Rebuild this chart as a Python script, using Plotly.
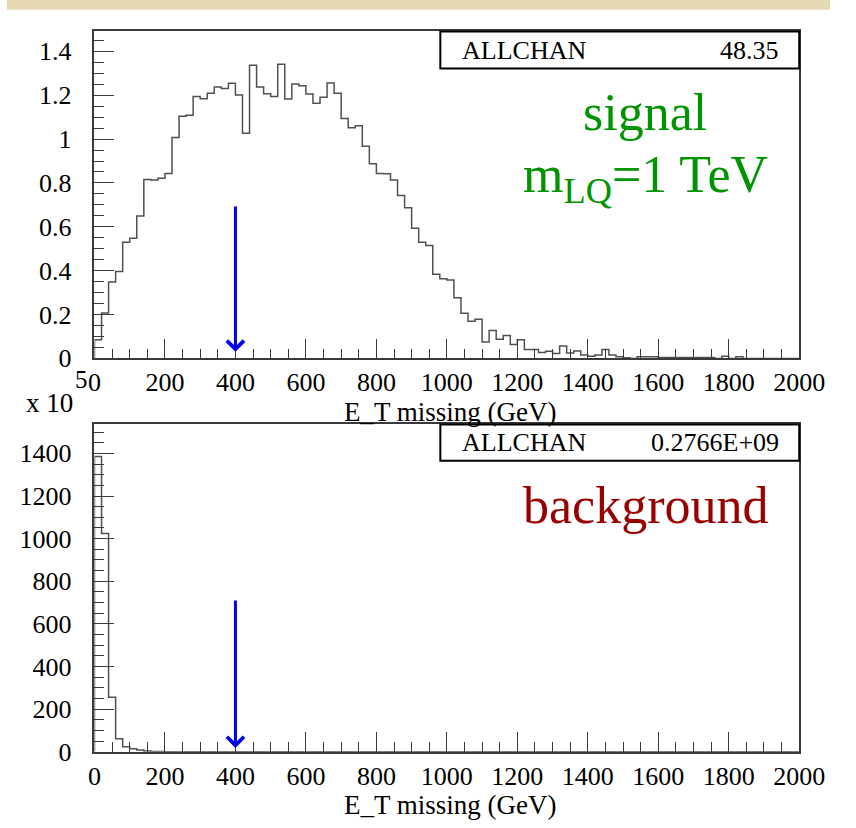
import numpy as np
import plotly.graph_objects as go

# ---------------- data ----------------
BIN_WIDTH = 20          # GeV
N_BINS = 100
X_MAX = 2000

signal_vals = [
    0.085, 0.207, 0.348, 0.396, 0.530, 0.548, 0.649, 0.816, 0.813, 0.821,
    0.843, 1.007, 1.104, 1.109, 1.194, 1.184, 1.209, 1.237, 1.231, 1.255,
    1.201, 1.027, 1.337, 1.238, 1.207, 1.194, 1.341, 1.183, 1.251, 1.243,
    1.206, 1.164, 1.191, 1.256, 1.209, 1.094, 1.052, 1.061, 0.967, 0.887,
    0.843, 0.842, 0.814, 0.743, 0.687, 0.594, 0.530, 0.515, 0.384, 0.363,
    0.358, 0.276, 0.206, 0.169, 0.178, 0.075, 0.127, 0.087, 0.104, 0.063,
    0.085, 0.040, 0.040, 0.027, 0.033, 0.022, 0.057, 0.025, 0.034, 0.015,
    0.010, 0.015, 0.040, 0.015, 0.007, 0.003, 0.000, 0.007, 0.007, 0.007,
    0.004, 0.004, 0.004, 0.004, 0.004, 0.004, 0.004, 0.004, 0.000, 0.010,
    0.000, 0.007, 0.000, 0.000, 0.000, 0.000, 0.000, 0.000, 0.000, 0.000,
]

background_vals = [1385, 1024, 256, 61, 24, 15, 8, 4, 2, 1, 0.5, 0.3] + [0] * 88

signal_entries = "48.35"
background_entries = "0.2766E+09"
cut_value = 400
signal_arrow = (0.70, 0.03)      # arrow tail / tip (y values)
background_arrow = (717, 18)

x_title = "E_T missing (GeV)"

# ---------------- layout helpers ----------------
W, H = 856, 828
def px(x):
    return x / W
def py(y):
    return 1 - y / H

FONT = "Liberation Serif"
AX_COLOR = "#3a3a3a"
HIST_COLOR = "#505050"

edges = np.arange(N_BINS) * BIN_WIDTH

def step_xy(vals):
    xs = np.concatenate([[0], edges, [X_MAX]])
    ys = np.concatenate([[0], np.asarray(vals, float), [vals[-1]]])
    return xs, ys

fig = go.Figure()
sx, sy = step_xy(signal_vals)
bx, by = step_xy(background_vals)
fig.add_trace(go.Scatter(x=sx, y=sy, mode="lines", line=dict(shape="hv", color=HIST_COLOR, width=1.5),
                         xaxis="x", yaxis="y", showlegend=False, hoverinfo="skip"))
fig.add_trace(go.Scatter(x=bx, y=by, mode="lines", line=dict(shape="hv", color=HIST_COLOR, width=1.5),
                         xaxis="x2", yaxis="y2", showlegend=False, hoverinfo="skip"))

def xaxis_cfg(domain, anchor):
    return dict(
        domain=domain, anchor=anchor, range=[0, X_MAX],
        tickmode="linear", tick0=0, dtick=200,
        ticks="inside", ticklen=20, tickwidth=1.2, tickcolor=AX_COLOR,
        minor=dict(ticks="inside", ticklen=10, dtick=50, tickwidth=1.2, tickcolor=AX_COLOR),
        showline=True, linecolor=AX_COLOR, linewidth=1.5, mirror=True,
        showgrid=False, zeroline=False,
        tickfont=dict(family=FONT, size=26, color="black"),
        ticklabelstandoff=0,
    )

def yaxis_cfg(domain, anchor, rng, dtick, mdtick, fmt):
    return dict(
        domain=domain, anchor=anchor, range=rng,
        tickmode="linear", tick0=0, dtick=dtick, tickformat=fmt,
        ticks="inside", ticklen=20, tickwidth=1.2, tickcolor=AX_COLOR,
        minor=dict(ticks="inside", ticklen=10, dtick=mdtick, tickwidth=1.2, tickcolor=AX_COLOR),
        showline=True, linecolor=AX_COLOR, linewidth=1.5, mirror=True,
        showgrid=False, zeroline=False,
        tickfont=dict(family=FONT, size=26, color="black"),
        ticklabelstandoff=16,
    )

fig.update_layout(
    width=W, height=H,
    margin=dict(l=0, r=0, t=0, b=0),
    paper_bgcolor="white", plot_bgcolor="white",
    xaxis=xaxis_cfg([px(91), px(824)], "y"),
    yaxis=yaxis_cfg([py(365), py(32)], "x", [0, 1.491], 0.2, 0.05, "~g"),
    xaxis2=xaxis_cfg([px(91), px(824)], "y2"),
    yaxis2=yaxis_cfg([py(765.7), py(432.3)], "x2", [0, 1535.6], 200, 50, "d"),
    showlegend=False,
)

shapes = [
    # parchment strip at the top
    dict(type="rect", xref="paper", yref="paper", x0=0, x1=1, y0=py(10), y1=1,
         fillcolor="#e4d9b2", line=dict(width=0), layer="below"),
    # stat boxes
    dict(type="rect", xref="paper", yref="paper", x0=px(450.7), x1=px(824), y0=py(69.7), y1=py(32),
         fillcolor="white", line=dict(color="black", width=2)),
    dict(type="rect", xref="paper", yref="paper", x0=px(450.7), x1=px(824), y0=py(469.3), y1=py(432.3),
         fillcolor="white", line=dict(color="black", width=2)),
]
fig.update_layout(shapes=shapes)

ann = []
def text(x, y, s, size, color="black", xanchor="left", yanchor="middle"):
    ann.append(dict(x=px(x), y=py(y), xref="paper", yref="paper", text=s, showarrow=False,
                    xanchor=xanchor, yanchor=yanchor, align="left",
                    font=dict(family=FONT, size=size, color=color)))

# stat box text
text(470.7, 51.3, "ALLCHAN", 26)
text(805, 51.3, signal_entries, 26, xanchor="right")
text(470.7, 451.0, "ALLCHAN", 26)
text(805, 451.0, background_entries, 26, xanchor="right")

# labels
text(664, 83.7, "signal", 52, color="#009400", xanchor="center", yanchor="top")
text(664, 147.0, "m<sub>LQ</sub>=1 TeV", 52, color="#009400", xanchor="center", yanchor="top")
text(664.5, 483.7, "background", 52, color="#990000", xanchor="center", yanchor="top")

# axis titles
text(461, 402.0, x_title, 27, xanchor="center", yanchor="top")
text(461, 802.5, x_title, 27, xanchor="center", yanchor="top")

# exponent label of lower plot
text(70.7, 393.5, "x 10", 27, xanchor="right", yanchor="top")
text(77.5, 371, "5", 25, xanchor="center", yanchor="top")

# cut arrows
ann.append(dict(x=cut_value, y=signal_arrow[1], ax=cut_value, ay=signal_arrow[0],
                xref="x", yref="y", axref="x", ayref="y", text="", showarrow=True,
                arrowhead=4, arrowwidth=3, arrowsize=1.1, arrowcolor="#0000f0", standoff=0))
ann.append(dict(x=cut_value, y=background_arrow[1], ax=cut_value, ay=background_arrow[0],
                xref="x2", yref="y2", axref="x2", ayref="y2", text="", showarrow=True,
                arrowhead=4, arrowwidth=3, arrowsize=1.1, arrowcolor="#0000f0", standoff=0))

fig.update_layout(annotations=ann)

fig.write_html("out.html")
